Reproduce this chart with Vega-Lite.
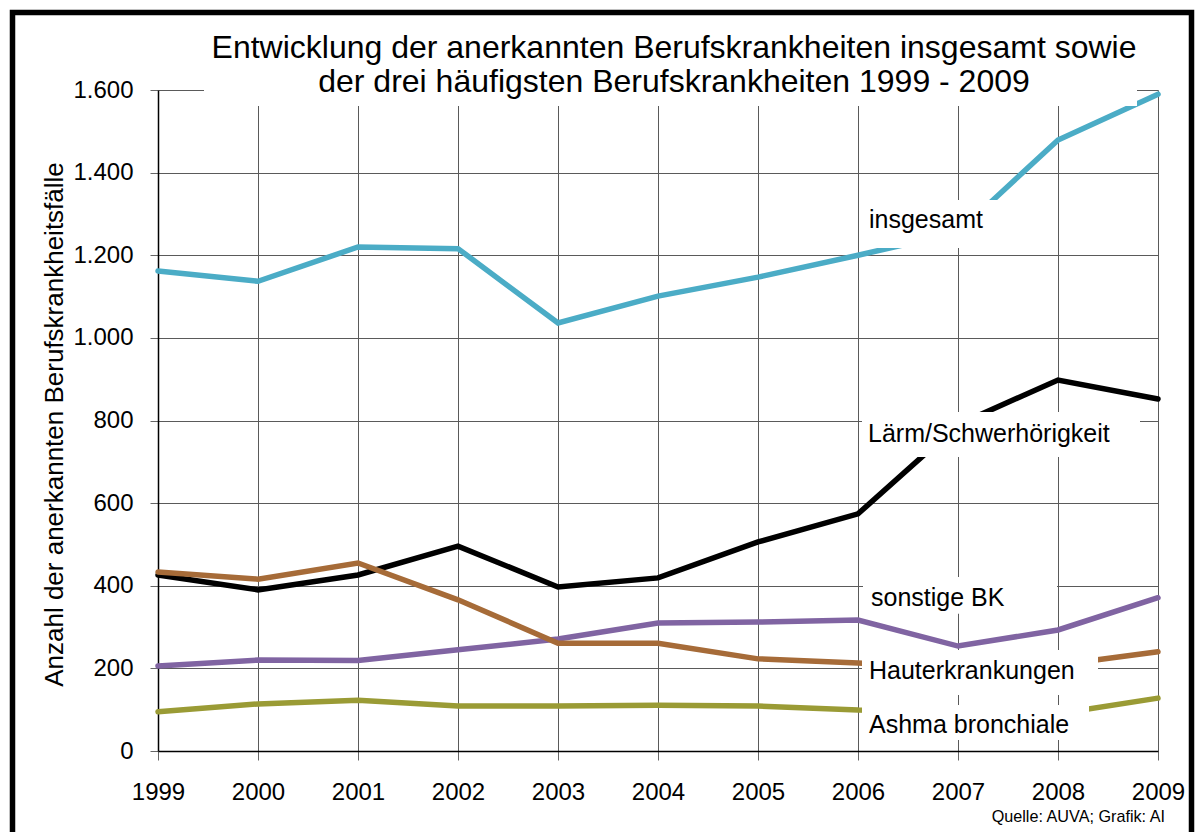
{
  "$schema": "https://vega.github.io/schema/vega-lite/v6.json",
  "width": 1000,
  "height": 661,
  "autosize": {"type": "none"},
  "padding": {"left": 158, "top": 90, "right": 37, "bottom": 81},
  "background": "white",
  "config": {"view": {"stroke": null}, "font": "Liberation Sans", "text": {"font": "Liberation Sans", "color": "black"}},
  "datasets": {
    "series": [
      {"year": 1999, "series": "insgesamt", "value": 1162},
      {"year": 2000, "series": "insgesamt", "value": 1137},
      {"year": 2001, "series": "insgesamt", "value": 1220},
      {"year": 2002, "series": "insgesamt", "value": 1216},
      {"year": 2003, "series": "insgesamt", "value": 1036},
      {"year": 2004, "series": "insgesamt", "value": 1101},
      {"year": 2005, "series": "insgesamt", "value": 1147},
      {"year": 2006, "series": "insgesamt", "value": 1200},
      {"year": 2007, "series": "insgesamt", "value": 1255},
      {"year": 2008, "series": "insgesamt", "value": 1479},
      {"year": 2009, "series": "insgesamt", "value": 1590},
      {"year": 1999, "series": "Lärm/Schwerhörigkeit", "value": 426},
      {"year": 2000, "series": "Lärm/Schwerhörigkeit", "value": 390},
      {"year": 2001, "series": "Lärm/Schwerhörigkeit", "value": 426},
      {"year": 2002, "series": "Lärm/Schwerhörigkeit", "value": 496},
      {"year": 2003, "series": "Lärm/Schwerhörigkeit", "value": 397},
      {"year": 2004, "series": "Lärm/Schwerhörigkeit", "value": 419},
      {"year": 2005, "series": "Lärm/Schwerhörigkeit", "value": 506},
      {"year": 2006, "series": "Lärm/Schwerhörigkeit", "value": 574},
      {"year": 2007, "series": "Lärm/Schwerhörigkeit", "value": 790},
      {"year": 2008, "series": "Lärm/Schwerhörigkeit", "value": 898},
      {"year": 2009, "series": "Lärm/Schwerhörigkeit", "value": 852},
      {"year": 1999, "series": "sonstige BK", "value": 206},
      {"year": 2000, "series": "sonstige BK", "value": 220},
      {"year": 2001, "series": "sonstige BK", "value": 219},
      {"year": 2002, "series": "sonstige BK", "value": 245},
      {"year": 2003, "series": "sonstige BK", "value": 271},
      {"year": 2004, "series": "sonstige BK", "value": 310},
      {"year": 2005, "series": "sonstige BK", "value": 312},
      {"year": 2006, "series": "sonstige BK", "value": 317},
      {"year": 2007, "series": "sonstige BK", "value": 254},
      {"year": 2008, "series": "sonstige BK", "value": 293},
      {"year": 2009, "series": "sonstige BK", "value": 371},
      {"year": 1999, "series": "Hauterkrankungen", "value": 433},
      {"year": 2000, "series": "Hauterkrankungen", "value": 416},
      {"year": 2001, "series": "Hauterkrankungen", "value": 455},
      {"year": 2002, "series": "Hauterkrankungen", "value": 366},
      {"year": 2003, "series": "Hauterkrankungen", "value": 261},
      {"year": 2004, "series": "Hauterkrankungen", "value": 261},
      {"year": 2005, "series": "Hauterkrankungen", "value": 223},
      {"year": 2006, "series": "Hauterkrankungen", "value": 213},
      {"year": 2007, "series": "Hauterkrankungen", "value": 200},
      {"year": 2008, "series": "Hauterkrankungen", "value": 208},
      {"year": 2009, "series": "Hauterkrankungen", "value": 240},
      {"year": 1999, "series": "Ashma bronchiale", "value": 95},
      {"year": 2000, "series": "Ashma bronchiale", "value": 114},
      {"year": 2001, "series": "Ashma bronchiale", "value": 123},
      {"year": 2002, "series": "Ashma bronchiale", "value": 109},
      {"year": 2003, "series": "Ashma bronchiale", "value": 109},
      {"year": 2004, "series": "Ashma bronchiale", "value": 111},
      {"year": 2005, "series": "Ashma bronchiale", "value": 109},
      {"year": 2006, "series": "Ashma bronchiale", "value": 99},
      {"year": 2007, "series": "Ashma bronchiale", "value": 95},
      {"year": 2008, "series": "Ashma bronchiale", "value": 90},
      {"year": 2009, "series": "Ashma bronchiale", "value": 128}
    ]
  },
  "layer": [
    {
      "data": {"name": "series"},
      "mark": {"type": "line", "strokeWidth": 5.5, "strokeCap": "round", "strokeJoin": "miter"},
      "encoding": {
        "x": {
          "field": "year", "type": "quantitative",
          "scale": {"domain": [1999, 2009], "nice": false, "zero": false},
          "axis": {
            "values": [1999, 2000, 2001, 2002, 2003, 2004, 2005, 2006, 2007, 2008, 2009],
            "format": "d", "title": null,
            "labelFontSize": 24, "labelColor": "black", "labelFont": "Liberation Sans",
            "labelPadding": 20, "labelBaseline": "top", "labelFlush": false, "labelOverlap": false,
            "ticks": true, "tickSize": 9, "tickColor": "#666666", "tickWidth": 1,
            "domain": true, "domainColor": "black", "domainWidth": 1.5,
            "grid": true, "gridColor": "#5a5a5a", "gridWidth": 1
          }
        },
        "y": {
          "field": "value", "type": "quantitative",
          "scale": {"domain": [0, 1600], "nice": false},
          "axis": {
            "values": [0, 200, 400, 600, 800, 1000, 1200, 1400, 1600],
            "labelExpr": "replace(format(datum.value, ','), ',', '.')",
            "labelFontSize": 24, "labelColor": "black", "labelFont": "Liberation Sans",
            "labelPadding": 17, "labelFlush": false, "labelOverlap": false,
            "tickSize": 8, "tickColor": "#666666", "tickWidth": 1,
            "domain": true, "domainColor": "black", "domainWidth": 1.5,
            "grid": true, "gridColor": "#5a5a5a", "gridWidth": 1,
            "title": "Anzahl der anerkannten Berufskrankheitsfälle",
            "titleFont": "Liberation Sans", "titleFontSize": 26, "titleFontWeight": "normal", "titleColor": "black",
            "titleAngle": 270, "titleX": -96, "titleY": 334, "titleBaseline": "alphabetic", "titleAlign": "center"
          }
        },
        "color": {
          "field": "series", "type": "nominal", "legend": null,
          "scale": {
            "domain": ["insgesamt", "Lärm/Schwerhörigkeit", "sonstige BK", "Hauterkrankungen", "Ashma bronchiale"],
            "range": ["#4BACC6", "#000000", "#8064A2", "#A66B38", "#9A9B35"]
          }
        }
      }
    },
    {
      "data": {"values": [{}]},
      "mark": {"type": "rect", "fill": "white"},
      "encoding": {
        "x": {"datum": 1999.46, "type": "quantitative"},
        "x2": {"datum": 2008.79},
        "y": {"datum": 1561, "type": "quantitative"},
        "y2": {"datum": 1745}
      }
    },
    {
      "data": {"values": [{}]},
      "mark": {"type": "rect", "fill": "white"},
      "encoding": {
        "x": {"datum": 2006.01, "type": "quantitative"},
        "x2": {"datum": 2007.42},
        "y": {"datum": 1333.7, "type": "quantitative"},
        "y2": {"datum": 1217.5}
      }
    },
    {
      "data": {"values": [{}]},
      "mark": {"type": "rect", "fill": "white"},
      "encoding": {
        "x": {"datum": 2006.04, "type": "quantitative"},
        "x2": {"datum": 2008.82},
        "y": {"datum": 820.6, "type": "quantitative"},
        "y2": {"datum": 711.6}
      }
    },
    {
      "data": {"values": [{}]},
      "mark": {"type": "rect", "fill": "white"},
      "encoding": {
        "x": {"datum": 2006.05, "type": "quantitative"},
        "x2": {"datum": 2007.99},
        "y": {"datum": 421, "type": "quantitative"},
        "y2": {"datum": 332}
      }
    },
    {
      "data": {"values": [{}]},
      "mark": {"type": "rect", "fill": "white"},
      "encoding": {
        "x": {"datum": 2006.04, "type": "quantitative"},
        "x2": {"datum": 2008.40},
        "y": {"datum": 244.6, "type": "quantitative"},
        "y2": {"datum": 135.5}
      }
    },
    {
      "data": {"values": [{}]},
      "mark": {"type": "rect", "fill": "white"},
      "encoding": {
        "x": {"datum": 2006.04, "type": "quantitative"},
        "x2": {"datum": 2008.31},
        "y": {"datum": 111.3, "type": "quantitative"},
        "y2": {"datum": 26.6}
      }
    },
    {
      "data": {"values": [{}]},
      "mark": {"type": "text", "text": "insgesamt", "fontSize": 25, "align": "left", "baseline": "alphabetic"},
      "encoding": {
        "x": {"datum": 2006.11, "type": "quantitative"},
        "y": {"datum": 1266, "type": "quantitative"}
      }
    },
    {
      "data": {"values": [{}]},
      "mark": {"type": "text", "text": "Lärm/Schwerhörigkeit", "fontSize": 25, "align": "left", "baseline": "alphabetic"},
      "encoding": {
        "x": {"datum": 2006.10, "type": "quantitative"},
        "y": {"datum": 748.7, "type": "quantitative"}
      }
    },
    {
      "data": {"values": [{}]},
      "mark": {"type": "text", "text": "sonstige BK", "fontSize": 25, "align": "left", "baseline": "alphabetic"},
      "encoding": {
        "x": {"datum": 2006.13, "type": "quantitative"},
        "y": {"datum": 351, "type": "quantitative"}
      }
    },
    {
      "data": {"values": [{}]},
      "mark": {"type": "text", "text": "Hauterkrankungen", "fontSize": 25, "align": "left", "baseline": "alphabetic"},
      "encoding": {
        "x": {"datum": 2006.11, "type": "quantitative"},
        "y": {"datum": 174, "type": "quantitative"}
      }
    },
    {
      "data": {"values": [{}]},
      "mark": {"type": "text", "text": "Ashma bronchiale", "fontSize": 25, "align": "left", "baseline": "alphabetic"},
      "encoding": {
        "x": {"datum": 2006.11, "type": "quantitative"},
        "y": {"datum": 43.6, "type": "quantitative"}
      }
    },
    {
      "data": {"values": [{}]},
      "mark": {"type": "text", "text": "Entwicklung der anerkannten Berufskrankheiten insgesamt sowie", "fontSize": 32, "align": "center", "baseline": "alphabetic"},
      "encoding": {
        "x": {"datum": 2004.16, "type": "quantitative"},
        "y": {"datum": 1677.4, "type": "quantitative"}
      }
    },
    {
      "data": {"values": [{}]},
      "mark": {"type": "text", "text": "der drei häufigsten Berufskrankheiten 1999 - 2009", "fontSize": 32, "align": "center", "baseline": "alphabetic"},
      "encoding": {
        "x": {"datum": 2004.16, "type": "quantitative"},
        "y": {"datum": 1595.1, "type": "quantitative"}
      }
    },
    {
      "data": {"values": [{}]},
      "mark": {"type": "text", "text": "Quelle: AUVA; Grafik: AI", "fontSize": 16.2, "align": "right", "baseline": "alphabetic"},
      "encoding": {
        "x": {"datum": 2009.07, "type": "quantitative"},
        "y": {"datum": -173, "type": "quantitative"}
      }
    },
    {
      "data": {"values": [{}]},
      "mark": {"type": "rect", "fill": null, "fillOpacity": 0, "stroke": "black", "strokeWidth": 5.5},
      "encoding": {
        "x": {"datum": 1997.545, "type": "quantitative"},
        "x2": {"datum": 2009.335},
        "y": {"datum": 1787.6, "type": "quantitative"},
        "y2": {"datum": -264}
      }
    }
  ]
}
